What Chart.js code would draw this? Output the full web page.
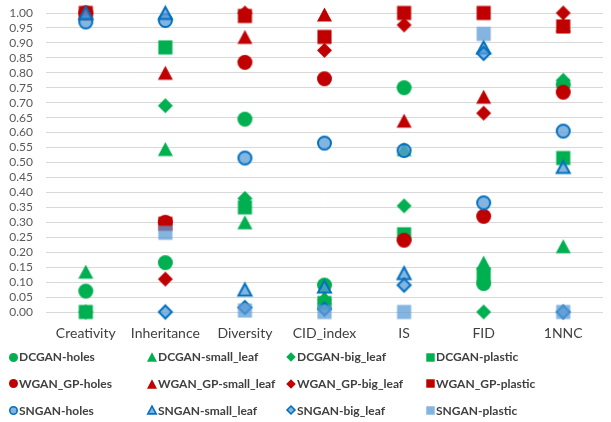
<!DOCTYPE html>
<html>
<head>
<meta charset="utf-8">
<script src="https://cdn.jsdelivr.net/npm/chart.js@4.4.1/dist/chart.umd.min.js"></script>
<style>
  html, body { margin: 0; padding: 0; background: #fff; }
  #wrap { width: 611px; height: 422px; position: relative; }
</style>
</head>
<body>
<div id="wrap"><canvas id="c" width="611" height="422"></canvas></div>
<script>
// Evaluation metrics on the x axis
const categories = ['Creativity', 'Inheritance', 'Diversity', 'CID_index', 'IS', 'FID', '1NNC'];

// Normalised scores per model / dataset (null = no marker)
const dcganHoles     = [0.07, 0.165, 0.645, 0.09, 0.75, 0.095, 0.76];
const dcganSmallLeaf = [0.135, 0.545, 0.30, 0.05, 0.545, 0.165, 0.22];
const dcganBigLeaf   = [0.00, 0.69, 0.38, 0.04, 0.355, 0.00, 0.775];
const dcganPlastic   = [0.00, 0.885, 0.35, 0.03, 0.26, 0.125, 0.515];

const wganHoles      = [1.00, 0.30, 0.835, 0.78, 0.24, 0.32, 0.735];
const wganSmallLeaf  = [1.00, 0.80, 0.92, 0.995, 0.64, 0.72, 0.96];
const wganBigLeaf    = [1.00, 0.11, 1.00, 0.875, 0.96, 0.665, 1.00];
const wganPlastic    = [1.00, 0.295, 0.99, 0.92, 1.00, 1.00, 0.955];

const snganHoles     = [0.97, 0.975, 0.515, 0.565, 0.54, 0.365, 0.605];
const snganSmallLeaf = [1.00, 1.00, 0.075, 0.085, 0.13, 0.885, 0.485];
const snganBigLeaf   = [null, 0.00, 0.015, 0.01, 0.09, 0.865, 0.00];
const snganPlastic   = [null, 0.265, 0.005, 0.00, 0.00, 0.93, 0.00];

// Y axis range / tick step
const yMin = 0, yMax = 1, yStep = 0.05;

const GREEN = '#00B050';
const RED = '#C00000';
const BLUE_LINE = '#0070C0';
const BLUE_FILL = 'rgba(91,155,213,0.75)';

// Build a marker bitmap centred on its bounding box
function makeMarker(shape, size, fill, stroke, lw) {
  const pad = 2;
  const dim = Math.ceil(size + pad * 2);
  const c = document.createElement('canvas');
  c.width = dim; c.height = dim;
  const g = c.getContext('2d');
  const m = dim / 2;
  const h = size / 2 - (stroke ? lw / 2 : 0);
  g.beginPath();
  if (shape === 'circle') {
    g.arc(m, m, h, 0, Math.PI * 2);
  } else if (shape === 'triangle') {
    const v = h * 0.93;
    g.moveTo(m, m - v);
    g.lineTo(m + h, m + v);
    g.lineTo(m - h, m + v);
    g.closePath();
  } else if (shape === 'diamond') {
    g.moveTo(m, m - h);
    g.lineTo(m + h, m);
    g.lineTo(m, m + h);
    g.lineTo(m - h, m);
    g.closePath();
  } else {
    const s = h * 0.94;
    g.rect(m - s, m - s, s * 2, s * 2);
  }
  g.fillStyle = fill;
  g.fill();
  if (stroke) {
    g.lineWidth = lw;
    g.strokeStyle = stroke;
    g.lineJoin = 'miter';
    g.stroke();
  }
  return c;
}

const chartSize = { circle: 15, triangle: 15, diamond: 15, square: 15 };
const legendSize = { circle: 9, triangle: 10, diamond: 9.5, square: 9 };

const seriesDefs = [
  ['DCGAN-holes', dcganHoles, 'circle', GREEN, null],
  ['DCGAN-small_leaf', dcganSmallLeaf, 'triangle', GREEN, null],
  ['DCGAN-big_leaf', dcganBigLeaf, 'diamond', GREEN, null],
  ['DCGAN-plastic', dcganPlastic, 'square', GREEN, null],
  ['WGAN_GP-holes', wganHoles, 'circle', RED, null],
  ['WGAN_GP-small_leaf', wganSmallLeaf, 'triangle', RED, null],
  ['WGAN_GP-big_leaf', wganBigLeaf, 'diamond', RED, null],
  ['WGAN_GP-plastic', wganPlastic, 'square', RED, null],
  ['SNGAN-holes', snganHoles, 'circle', BLUE_FILL, BLUE_LINE],
  ['SNGAN-small_leaf', snganSmallLeaf, 'triangle', BLUE_FILL, BLUE_LINE],
  ['SNGAN-big_leaf', snganBigLeaf, 'diamond', BLUE_FILL, BLUE_LINE],
  ['SNGAN-plastic', snganPlastic, 'square', BLUE_FILL, null]
];

const datasets = seriesDefs.map(([label, data, shape, fill, stroke], i) => {
  const marker = makeMarker(shape, chartSize[shape], fill, stroke, 2);
  return {
    label,
    data,
    showLine: false,
    clip: false,
    pointStyle: marker,
    pointRadius: 7,
    pointHoverRadius: 7,
    legendMarker: makeMarker(shape, legendSize[shape], fill, stroke, 1.6),
    // later series are painted over earlier ones
    order: seriesDefs.length - i
  };
});

// Four-column legend below the axis
const gridLegend = {
  id: 'gridLegend',
  afterDraw(chart) {
    const ctx = chart.ctx;
    ctx.save();
    ctx.font = 'bold 12px Lato';
    ctx.fillStyle = '#404040';
    ctx.textBaseline = 'middle';
    ctx.textAlign = 'left';
    const list = chart.data.datasets;
    list.forEach((ds, i) => {
      const col = i % 4, row = Math.floor(i / 4);
      const x = 13 + col * 139;
      const y = 357 + row * 26.7;
      const img = ds.legendMarker;
      ctx.drawImage(img, Math.round(x - img.width / 2), Math.round(y - img.height / 2));
      ctx.fillText(ds.label, x + 6, y + 0.5);
    });
    ctx.restore();
  }
};

new Chart(document.getElementById('c'), {
  type: 'line',
  data: { labels: categories, datasets },
  options: {
    responsive: false,
    animation: false,
    layout: { padding: { left: 9, right: 0, top: 13, bottom: 80 } },
    plugins: {
      legend: { display: false },
      tooltip: { enabled: false }
    },
    scales: {
      x: {
        offset: true,
        grid: { display: false },
        border: { display: false },
        afterFit(scale) { scale.height = 30; },
        ticks: {
          color: '#404040',
          font: { family: 'Lato', size: 14 },
          padding: 5,
          maxRotation: 0
        }
      },
      y: {
        min: yMin,
        max: yMax,
        border: { display: false },
        grid: { color: '#d9d9d9', lineWidth: 1, drawTicks: false },
        afterFit(scale) {
          scale.width = 37;
          scale.paddingTop = 0;
          scale.paddingBottom = 0;
        },
        ticks: {
          stepSize: yStep,
          autoSkip: false,
          padding: 13,
          color: '#595959',
          font: { family: 'Lato', size: 12 },
          callback: v => Number(v).toFixed(2)
        }
      }
    }
  },
  plugins: [gridLegend]
});
</script>
</body>
</html>
